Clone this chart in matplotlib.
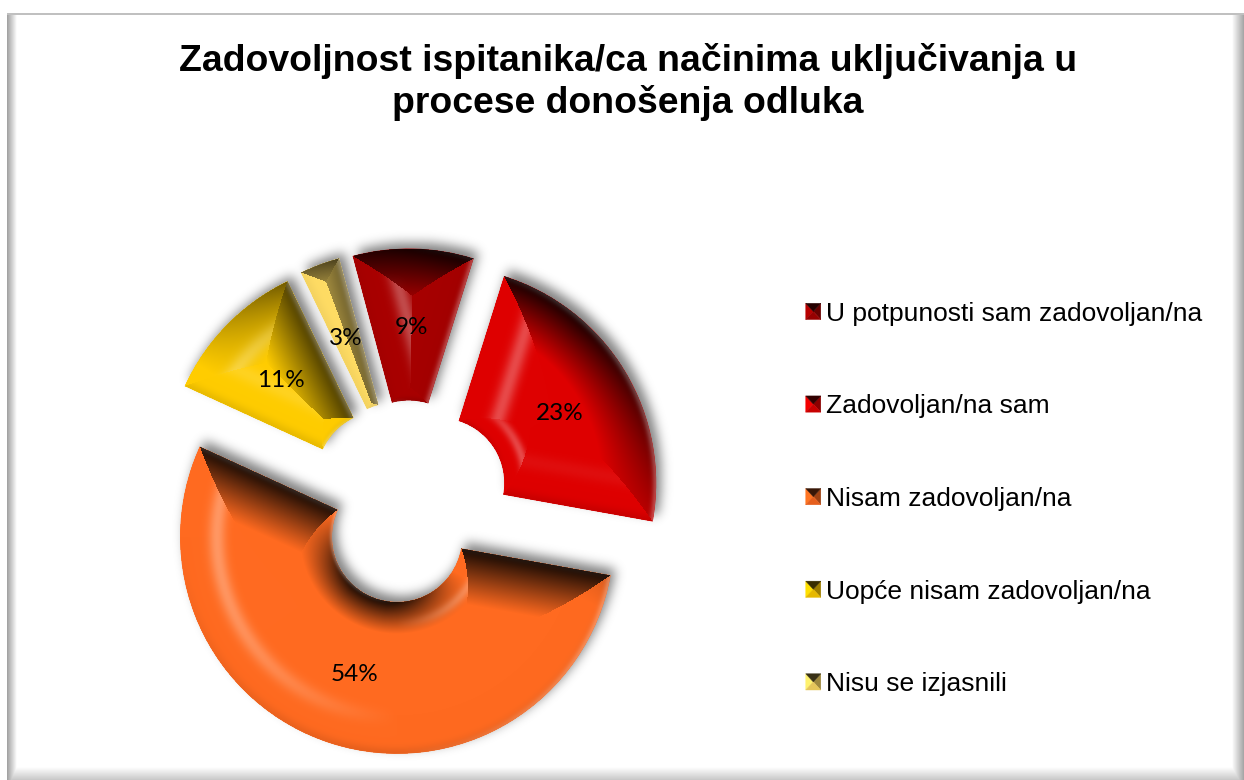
import numpy as np
import matplotlib
matplotlib.use('Agg')
import matplotlib.pyplot as plt
from matplotlib.legend_handler import HandlerBase
from matplotlib.patches import Polygon

# Datos del grafico
title = 'Zadovoljnost ispitanika/ca načinima uključivanja u\nprocese donošenja odluka'
categories = ['U potpunosti sam zadovoljan/na', 'Zadovoljan/na sam', 'Nisam zadovoljan/na',
              'Uopće nisam zadovoljan/na', 'Nisu se izjasnili']
values = [9, 23, 54, 11, 3]
colors = ['#A80000', '#DE0000', '#FF6A20', '#FFCC00', '#FFDC64']

W, H = 1244, 780
CX, CY, R_PX = 408, 502, 217   # centro y radio del pie en pixeles
BEVEL = 0.25

xlim = (-CX / R_PX, (W - CX) / R_PX)
ylim = ((CY - H) / R_PX, CY / R_PX)
px, py = np.meshgrid(np.arange(W) + 0.5, np.arange(H) + 0.5)
X = (px - CX) / R_PX
Y = (CY - py) / R_PX


def scale(rgb, f):
    return tuple(np.clip(np.array(rgb) * f, 0, 1))


def blur(a, sigma):
    fy = np.fft.fftfreq(a.shape[0])[:, None]
    fx = np.fft.rfftfreq(a.shape[1])[None, :]
    g = np.exp(-2 * (np.pi * sigma) ** 2 * (fx ** 2 + fy ** 2))
    return np.fft.irfft2(np.fft.rfft2(a) * g, s=a.shape)


def wedge_fields(w):
    # distancia al borde mas cercano y normal hacia afuera de ese borde
    dx, dy = X - w.center[0], Y - w.center[1]
    r = np.hypot(dx, dy)
    ang = np.degrees(np.arctan2(dy, dx))
    a1 = (ang - w.theta1) % 360
    span = w.theta2 - w.theta1
    a2 = span - a1
    inside = (a1 <= span) & (r <= w.r) & (r >= w.r - w.width)
    d1 = np.where(a1 < 90, r * np.sin(np.radians(np.clip(a1, 0, 90))), r)
    d2 = np.where(a2 < 90, r * np.sin(np.radians(np.clip(a2, 0, 90))), r)
    # el bisel del arco interior es mas angosto
    dist = np.stack([w.r - r, (r - (w.r - w.width)) * 1.7, d1, d2])
    k = np.argmin(dist, axis=0)
    d = np.min(dist, axis=0)
    t1, t2 = np.radians(w.theta1), np.radians(w.theta2)
    ux, uy = dx / np.maximum(r, 1e-6), dy / np.maximum(r, 1e-6)
    nx = np.choose(k, [ux, -ux, np.full_like(ux, np.sin(t1)), np.full_like(ux, -np.sin(t2))])
    ny = np.choose(k, [uy, -uy, np.full_like(uy, -np.cos(t1)), np.full_like(uy, np.cos(t2))])
    return inside, d, nx, ny


def bevel_image(w, color):
    inside, d, nx, ny = wedge_fields(w)
    u = np.clip(d / BEVEL, 0, 1)
    rgb = np.array(matplotlib.colors.to_rgb(color))
    # caras hacia arriba/derecha oscuras, caras hacia la izquierda con brillo
    dark = np.clip((nx * 0.4 + ny * 0.85 - 0.1) * 1.25, 0, 1) * (1 - u) ** 1.05
    dark = dark + np.clip(-ny, 0, 1) * 0.1 * np.exp(-(u / 0.12) ** 2)
    light = np.clip(-nx, 0, 1) * np.exp(-((u - 0.68) / 0.16) ** 2) * 0.3
    rim = np.clip(nx, 0, 1) * np.exp(-(u / 0.07) ** 2) * 0.28
    img = np.zeros(X.shape + (4,))
    for i in range(3):
        c = rgb[i] * (1 - 0.92 * dark)
        img[..., i] = c + (1 - c) * (light + rim)
    img[..., 3] = inside
    return img


class PyramidHandler(HandlerBase):
    # marcador de leyenda: cuadrado con cuatro caras biseladas
    def create_artists(self, legend, orig, xd, yd, width, height, fontsize, trans):
        rgb = orig.get_facecolor()[:3]
        x0, y0, x1, y1 = -xd, -yd, -xd + width, -yd + height
        mx, my = (x0 + x1) / 2, (y0 + y1) / 2
        faces = [([(x0, y0), (x0, y1), (mx, my)], 1.1),
                 ([(x1, y0), (x1, y1), (mx, my)], 0.62),
                 ([(x0, y0), (x1, y0), (mx, my)], 0.9),
                 ([(x0, y1), (x1, y1), (mx, my)], 0.22)]
        return [Polygon(p, closed=True, facecolor=scale(rgb, f), edgecolor=scale(rgb, f), linewidth=0.3,
                        transform=trans) for p, f in faces]


fig = plt.figure(figsize=(W / 100, H / 100), dpi=100)
ax = fig.add_axes([0, 0, 1, 1])

wedges, texts, autotexts = ax.pie(values, colors=colors, explode=[0.168] * len(values), startangle=105,
                                  counterclock=False, radius=1, autopct='%.0f%%', pctdistance=0.65,
                                  wedgeprops=dict(width=0.7, linewidth=0),
                                  textprops=dict(family='Lato', fontsize=17.5, color='black'))
for t in autotexts:
    t.set_zorder(5)
    t.set_y(t.get_position()[1] - 3 / R_PX)

# Marco biselado de la figura
frame = np.ones((H, W))
frame = np.minimum(frame, np.where(px > 7, np.clip(0.62 + 0.38 * (px - 7) / 10, 0, 1), 1))
frame = np.minimum(frame, np.where(px > W - 12, 1 - 0.36 * (px - (W - 12)) / 12, 1))
frame = np.minimum(frame, np.where(py > H - 13, 1 - 0.22 * (py - (H - 13)) / 13, 1))
frame = np.where((py > 13) & (py < 15.5) & (px > 7), 0.75, frame)
frame = np.where((py < 13) | (px < 7), 1, frame)
extent = (xlim[0], xlim[1], ylim[0], ylim[1])
ax.imshow(frame, cmap='gray', vmin=0, vmax=1, extent=extent, origin='upper', zorder=0, interpolation='nearest')

# Sombra difusa detras de las porciones
mask = np.zeros(X.shape)
for w in wedges:
    mask = np.maximum(mask, wedge_fields(w)[0].astype(float))
shadow = np.clip(blur(np.roll(np.roll(mask, -6, axis=0), 5, axis=1), 5.5), 0, 1)
shadow_img = np.zeros(X.shape + (4,))
shadow_img[..., 3] = shadow * 0.5
ax.imshow(shadow_img, extent=extent, origin='upper', zorder=0.5)

for w, c in zip(wedges, colors):
    w.set_zorder(1)
    im = ax.imshow(bevel_image(w, c), extent=extent, origin='upper', zorder=2, interpolation='nearest')
    im.set_clip_path(w)

ax.set_xlim(xlim)
ax.set_ylim(ylim)

ax.text((628 - CX) / R_PX, (CY - 82) / R_PX, title, ha='center', va='center', family='Liberation Sans',
        fontweight='bold', fontsize=26.9, linespacing=1.21, color='black', zorder=5)

leg = ax.legend(wedges, categories, handler_map={w: PyramidHandler() for w in wedges},
                loc='upper left', bbox_to_anchor=(782 / W, 1 - 278 / H), frameon=False,
                bbox_transform=fig.transFigure, prop=dict(family='Liberation Sans', size=19),
                handlelength=0.57, handleheight=0.57, handletextpad=0.2, labelspacing=2.6)
leg.set_zorder(5)

fig.savefig('out.png', dpi=100)
